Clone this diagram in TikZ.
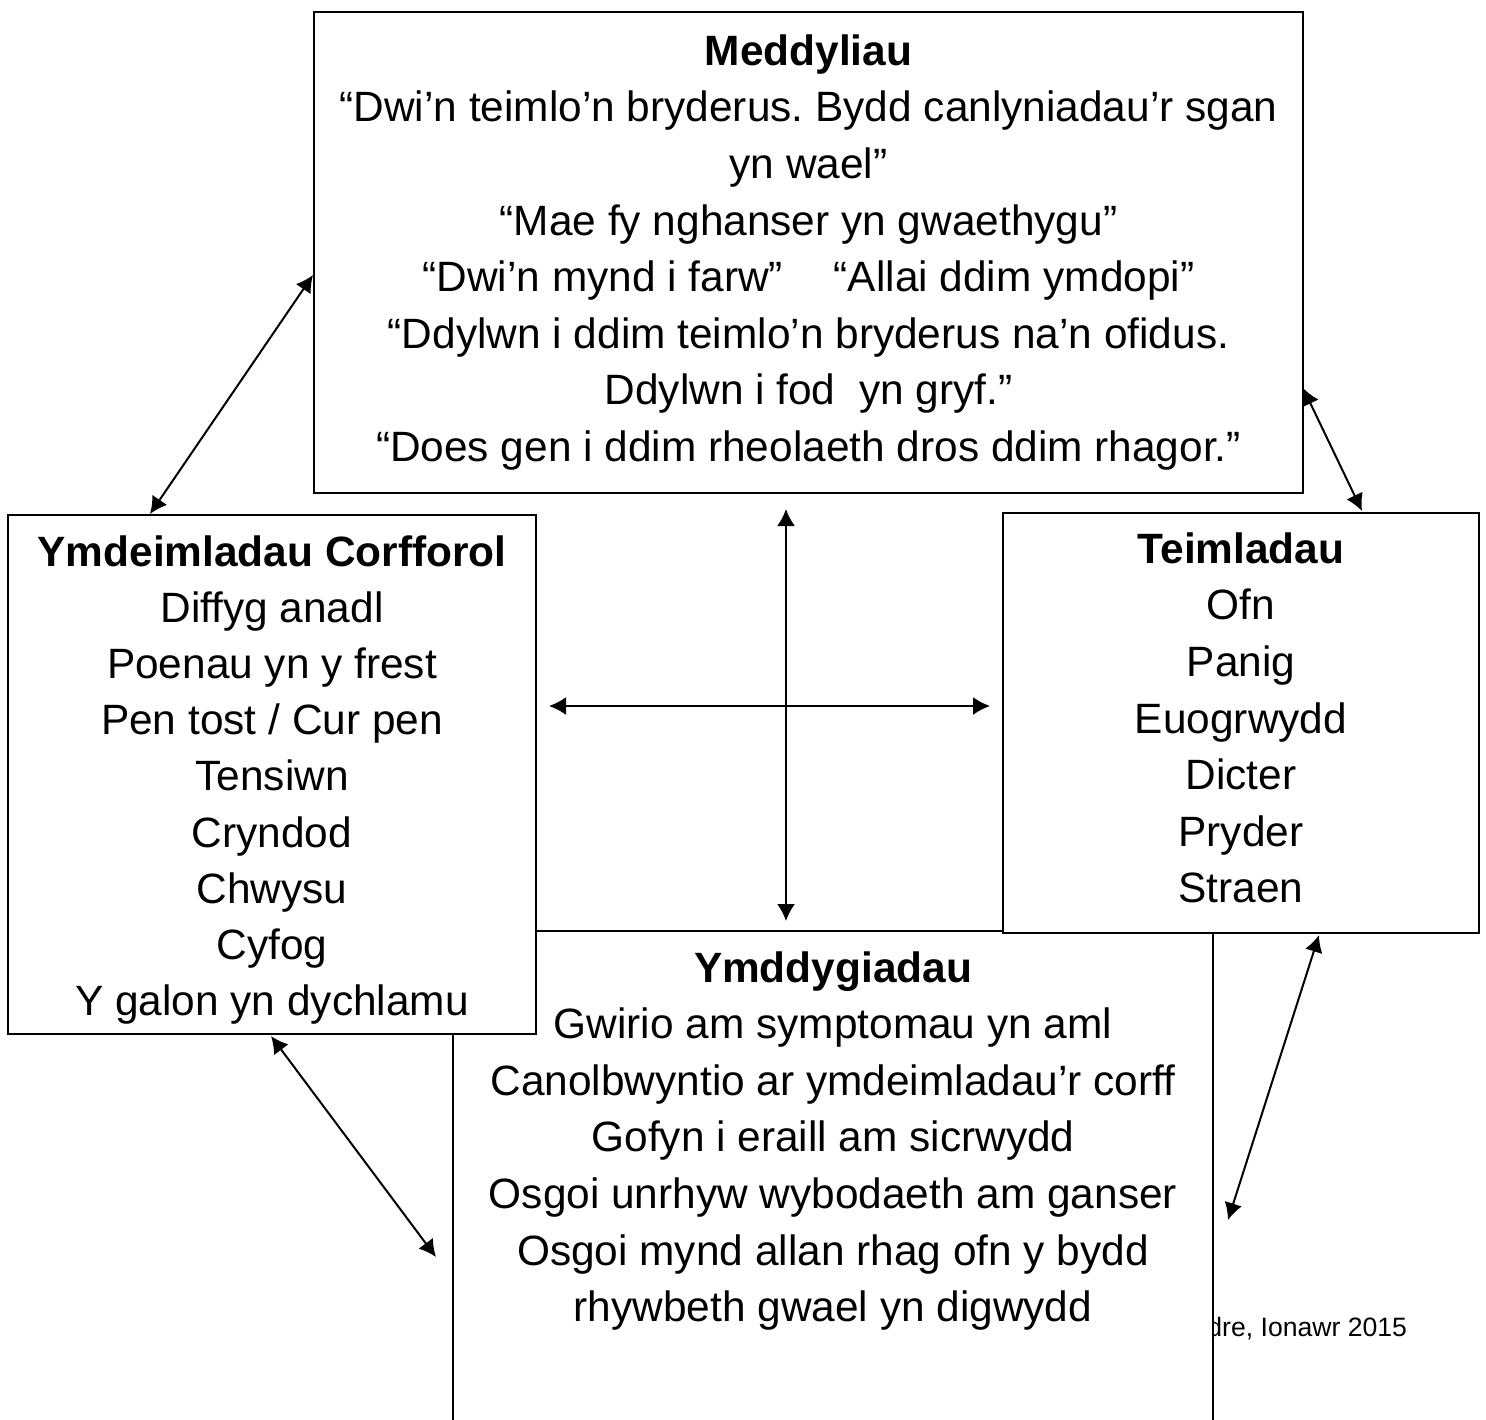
\documentclass[tikz,border=0pt]{standalone}
\usepackage{fontspec}
\setmainfont{Liberation Sans}
\usetikzlibrary{arrows.meta}
\begin{document}
\frenchspacing
\begin{tikzpicture}[x=0.5pt,y=-0.5pt,
  box/.style={draw=black,line width=1pt,fill=white,align=center,inner sep=0pt,
    font=\fontsize{21.2}{28.3}\selectfont},
  conn/.style={line width=1pt,{Latex[length=8.5pt,width=9pt]}-{Latex[length=8.5pt,width=9pt]}},
  plain/.style={align=center,inner sep=0pt,font=\fontsize{21.2}{28.3}\selectfont}]
\useasboundingbox (0,0) rectangle (1486,1419);
% footer text (partly hidden by bottom box)
\node[anchor=west,inner sep=0pt,font=\fontsize{13.3}{15}\selectfont] (foot) at (1207,1329) {dre, Ionawr 2015};
% bottom box (open at bottom)
\fill[white] (453,931) rectangle (1213,1430);
\draw[line width=1pt] (453,1430) -- (453,931) -- (1213,931) -- (1213,1430);
\node[plain] (ymdd) at (833,1141) {\textbf{Ymddygiadau}\\Gwirio am symptomau yn aml\\Canolbwyntio ar ymdeimladau’r corff\\Gofyn i eraill am sicrwydd\\Osgoi unrhyw wybodaeth am ganser\\Osgoi mynd allan rhag ofn y bydd\\rhywbeth gwael yn digwydd};
% top box
\node[box,minimum width=989*0.5pt,minimum height=481*0.5pt] (med) at (808.5,252.5) {\textbf{Meddyliau}\\“Dwi’n teimlo’n bryderus. Bydd canlyniadau’r sgan\\yn wael”\\“Mae fy nghanser yn gwaethygu”\\“Dwi’n mynd i farw”\hspace{1.2em}“Allai ddim ymdopi”\\“Ddylwn i ddim teimlo’n bryderus na’n ofidus.\\Ddylwn i fod\ \ yn gryf.”\\“Does gen i ddim rheolaeth dros ddim rhagor.”};
% left box
\node[box,minimum width=528*0.5pt,minimum height=519*0.5pt] (phys) at (272,774.5) {};
\node[plain,font=\fontsize{21.2}{28.1}\selectfont] (physT) at (272,780) {\textbf{Ymdeimladau Corfforol}\\Diffyg anadl\\Poenau yn y frest\\Pen tost / Cur pen\\Tensiwn\\Cryndod\\Chwysu\\Cyfog\\Y galon yn dychlamu};
% right box
\node[box,minimum width=476*0.5pt,minimum height=420*0.5pt] (feel) at (1241,723) {};
\node[plain] (feelT) at (1241,718) {\textbf{Teimladau}\\Ofn\\Panig\\Euogrwydd\\Dicter\\Pryder\\Straen};
% connector end points
\coordinate (a1) at (150,514);
\coordinate (a2) at (313,275);
\coordinate (b1) at (1303,388);
\coordinate (b2) at (1362,511);
\coordinate (c1) at (786,509);
\coordinate (c2) at (786,921);
\coordinate (d1) at (549,706);
\coordinate (d2) at (990,706);
\coordinate (e1) at (271,1036);
\coordinate (e2) at (436,1257);
\coordinate (f1) at (1319,935);
\coordinate (f2) at (1228,1220);
\draw[conn] (a1) -- (a2);
\draw[conn] (b1) -- (b2);
\draw[conn] (c1) -- (c2);
\draw[conn] (d1) -- (d2);
\draw[conn] (e1) -- (e2);
\draw[conn] (f1) -- (f2);
\end{tikzpicture}
\end{document}
